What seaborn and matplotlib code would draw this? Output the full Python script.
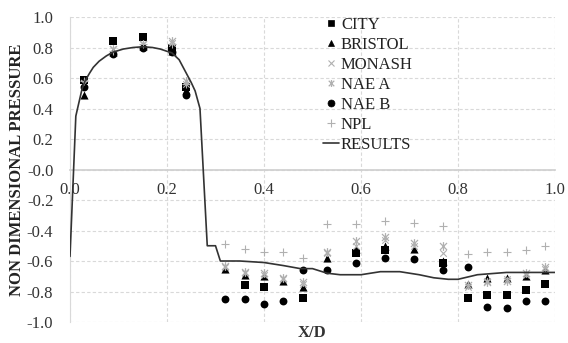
import numpy as np
import pandas as pd
import matplotlib
matplotlib.use("Agg")
import matplotlib.pyplot as plt
from matplotlib.path import Path
from matplotlib.lines import Line2D
import seaborn as sns

# ---- data ----
stations = [0.028, 0.089, 0.15, 0.21, 0.24,
            0.32, 0.36, 0.40, 0.44, 0.48, 0.53, 0.59, 0.65, 0.71, 0.77,
            0.82, 0.86, 0.90, 0.94, 0.98]
nan = float("nan")
city = [0.59, 0.84, 0.87, 0.80, 0.54,
        nan, -0.76, -0.77, nan, -0.84, nan, -0.55, -0.53, nan, -0.61,
        -0.84, -0.82, -0.82, -0.79, -0.75]
bristol = [0.49, 0.77, 0.81, 0.78, 0.52,
           -0.65, -0.69, -0.70, -0.73, -0.77, -0.58, -0.52, -0.50, -0.52, -0.60,
           -0.75, -0.71, -0.71, -0.70, -0.66]
monash = [0.57, 0.79, 0.82, 0.83, 0.56,
          -0.64, -0.68, -0.69, -0.72, -0.75, -0.55, -0.50, -0.46, -0.50, -0.55,
          -0.77, -0.73, -0.72, -0.69, -0.65]
nae_a = [0.57, 0.79, 0.82, 0.845, 0.58,
         -0.63, -0.67, -0.68, -0.71, -0.74, -0.54, -0.47, -0.44, -0.48, -0.50,
         -0.76, -0.74, -0.73, -0.68, -0.64]
nae_b = [0.54, 0.76, 0.80, 0.77, 0.49,
         -0.85, -0.85, -0.88, -0.86, -0.66, -0.66, -0.61, -0.58, -0.59, -0.66,
         -0.64, -0.90, -0.91, -0.86, -0.86]
npl = [0.58, 0.78, 0.82, 0.82, 0.56,
       -0.49, -0.52, -0.54, -0.54, -0.58, -0.36, -0.36, -0.34, -0.35, -0.37,
       -0.555, -0.54, -0.54, -0.53, -0.50]

result_x = [0.0, 0.012, 0.017, 0.025, 0.031, 0.04, 0.048, 0.06, 0.075, 0.089,
            0.11, 0.13, 0.151, 0.17, 0.186, 0.20, 0.21, 0.225, 0.24, 0.25,
            0.258, 0.268, 0.283, 0.300, 0.31, 0.35, 0.40, 0.44, 0.475, 0.50,
            0.53, 0.557, 0.60, 0.64, 0.68, 0.72, 0.75, 0.78, 0.80, 0.84,
            0.90, 1.0]
result_y = [-0.57, 0.35, 0.42, 0.53, 0.58, 0.63, 0.67, 0.71, 0.745, 0.77,
            0.79, 0.80, 0.805, 0.80, 0.79, 0.775, 0.765, 0.72, 0.63, 0.57,
            0.515, 0.40, -0.50, -0.50, -0.60, -0.60, -0.61, -0.63, -0.65, -0.65,
            -0.68, -0.69, -0.69, -0.67, -0.67, -0.69, -0.71, -0.72, -0.72, -0.69,
            -0.675, -0.675]

series_names = ["CITY", "BRISTOL", "MONASH", "NAE A", "NAE B", "NPL"]
series_vals = [city, bristol, monash, nae_a, nae_b, npl]

# ---- style ----
sns.set_theme(style="white")
plt.rcParams["font.family"] = ["Liberation Serif", "DejaVu Serif"]

star = Path([(0, -1), (0, 1), (-0.8, -0.8), (0.8, 0.8), (-0.8, 0.8), (0.8, -0.8)],
            [Path.MOVETO, Path.LINETO, Path.MOVETO, Path.LINETO, Path.MOVETO, Path.LINETO])

grey = "#b0b0b0"
styles = {
    "CITY": dict(marker="s", color="black", s=30, lw=0),
    "BRISTOL": dict(marker="^", color="black", s=34, lw=0),
    "MONASH": dict(marker="x", color=grey, s=22, lw=0.8),
    "NAE A": dict(marker=star, color=grey, s=40, lw=0.9),
    "NAE B": dict(marker="o", color="black", s=32, lw=0),
    "NPL": dict(marker="+", color=grey, s=40, lw=0.8),
}

fig = plt.figure(figsize=(5.68, 3.43), dpi=100)
ax = fig.add_axes([70/568, 1-322/343, 485/568, 305/343])

for name, vals in zip(series_names, series_vals):
    st = styles[name]
    df = pd.DataFrame({"x": stations, "y": vals}).dropna()
    sns.scatterplot(data=df, x="x", y="y", ax=ax, marker=st["marker"],
                    color=st["color"], s=st["s"], linewidth=st["lw"],
                    edgecolor=st["color"] if st["lw"] == 0 else None,
                    zorder=3, legend=False)

dfr = pd.DataFrame({"x": result_x, "y": result_y})
sns.lineplot(data=dfr, x="x", y="y", ax=ax, color="#333333", lw=1.2,
             sort=False, estimator=None, zorder=4, legend=False)

ax.set_xlim(0, 1.0)
ax.set_ylim(-1.0, 1.0)
ax.set_xticks(np.arange(0, 1.01, 0.2))
ax.set_yticks(np.arange(-1.0, 1.01, 0.2))
ax.set_xticklabels([f"{v:.1f}" for v in np.arange(0, 1.01, 0.2)])
ax.set_yticklabels([f"{v:.1f}" for v in np.arange(-1.0, 1.01, 0.2)])
ax.grid(True, color="#d9d9d9", linestyle=(0, (3, 2)), lw=0.8)
ax.set_axisbelow(True)

for s in ["top", "right"]:
    ax.spines[s].set_visible(False)
ax.spines["bottom"].set_position(("data", 0))
ax.spines["bottom"].set_color("#d0d0d0")
ax.spines["left"].set_color("#d9d9d9")
ax.spines["left"].set_linewidth(0.8)
ax.tick_params(axis="both", length=0, labelsize=12)
ax.tick_params(axis="x", pad=9)
ax.tick_params(axis="y", pad=12)
for t in ax.get_xticklabels() + ax.get_yticklabels():
    t.set_color("#333333")

ax.set_xlabel("")
ax.set_ylabel("")
fig.text(312/568, 1-333/343, "X/D", ha="center", va="center",
         fontsize=12, fontweight="bold", color="#333333")
fig.text(17/568, 1-170/343, "NON DIMENSIONAL PRESSURE", rotation=90,
         ha="center", va="center", fontsize=12, fontweight="bold", color="#222222")

handles = []
for name in series_names:
    st = styles[name]
    mk = st["marker"]
    handles.append(Line2D([], [], linestyle="none", marker=mk, color=st["color"],
                          markersize=5 if mk != "+" else 6,
                          markeredgewidth=st["lw"] if st["lw"] else 0.5))
handles.append(Line2D([], [], color="#333333", lw=1.2))
leg = fig.legend(handles, series_names + ["RESULTS"], loc="upper left",
                 bbox_to_anchor=(316/568, 1-10/343), frameon=False,
                 fontsize=12, handlelength=1.0, handletextpad=0.1,
                 labelspacing=0.24, borderaxespad=0)
for t in leg.get_texts():
    t.set_color("#222222")

fig.savefig("out.png", dpi=100)
